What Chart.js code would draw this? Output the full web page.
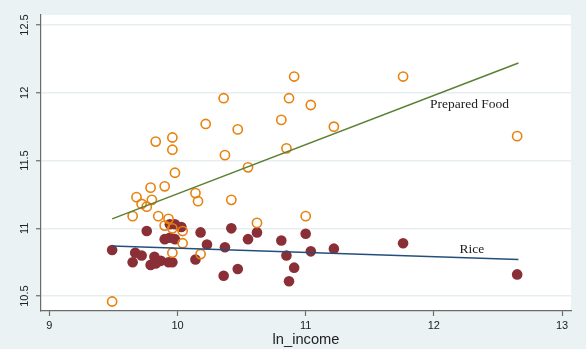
<!DOCTYPE html>
<html>
<head>
<meta charset="utf-8">
<script src="https://cdn.jsdelivr.net/npm/chart.js@4.4.1/dist/chart.umd.min.js"></script>
<style>
    html, body { margin: 0; padding: 0; background: #EAF2F3; }
    canvas { display: block; }
</style>
</head>
<body>
<canvas id="myChart" width="586" height="349"></canvas>
<script>
// data
const foodX = [9.49, 9.65, 9.68, 9.72, 9.76, 9.79, 9.80, 9.83, 9.85, 9.90, 9.90, 9.93, 9.96, 9.96, 9.96, 9.96, 9.98, 10.04, 10.04, 10.14, 10.16, 10.18, 10.22, 10.36, 10.37, 10.42, 10.47, 10.55, 10.62, 10.81, 10.85, 10.87, 10.91, 11.00, 11.04, 11.22, 11.76, 12.65]
const foodY = [10.46, 11.09, 11.23, 11.18, 11.16, 11.30, 11.21, 11.64, 11.09, 11.02, 11.31, 11.07, 11.00, 11.58, 11.67, 10.82, 11.41, 10.98, 10.89, 11.26, 11.20, 10.81, 11.77, 11.96, 11.54, 11.21, 11.73, 11.45, 11.04, 11.80, 11.59, 11.96, 12.12, 11.09, 11.91, 11.75, 12.12, 11.68]

const riceX = [9.49, 9.65, 9.67, 9.72, 9.76, 9.79, 9.82, 9.83, 9.87, 9.90, 9.93, 9.94, 9.94, 9.96, 9.98, 9.98, 10.03, 10.14, 10.18, 10.23, 10.36, 10.37, 10.42, 10.47, 10.55, 10.62, 10.81, 10.85, 10.87, 10.91, 11.00, 11.04, 11.22, 11.76, 12.65]
const riceY = [10.84, 10.75, 10.82, 10.80, 10.98, 10.73, 10.79, 10.74, 10.76, 10.92, 10.75, 10.93, 11.03, 10.75, 10.92, 11.03, 11.01, 10.77, 10.97, 10.88, 10.65, 10.86, 11.00, 10.70, 10.92, 10.97, 10.91, 10.80, 10.61, 10.71, 10.96, 10.83, 10.85, 10.89, 10.66]

// fitted lines (end points)
const fitX = [9.49, 12.66]
const foodFitY = [11.07, 12.22]
const riceFitY = [10.87, 10.77]

// tick labels
const xTicks = [9, 10, 11, 12, 13]
const yTicks = [10.5, 11, 11.5, 12, 12.5]

// text labels next to the lines
const labelNames = ['Prepared Food', 'Rice']
const labelX = [11.97, 12.20]
const labelY = [11.915, 10.845]

const xTitle = 'ln_income'

const toPoints = (xs, ys) => xs.map((x, i) => ({ x: x, y: ys[i] }))

const axisGray = '#6b6b6b'
const gridColor = '#E6EEF0'

// canvas + plot area background
const backgroundPlugin = {
    id: 'background',
    beforeDraw(chart) {
        const { ctx, chartArea } = chart
        ctx.save()
        ctx.fillStyle = '#EAF2F3'
        ctx.fillRect(0, 0, chart.width, chart.height)
        ctx.fillStyle = '#ffffff'
        ctx.fillRect(chartArea.left, chartArea.top, chartArea.right - chartArea.left, chartArea.bottom - chartArea.top)
        ctx.restore()
    }
}

// rotated y labels, x title and line labels
const textPlugin = {
    id: 'texts',
    afterDraw(chart) {
        const { ctx, scales, chartArea } = chart
        ctx.save()
        ctx.fillStyle = '#222'
        ctx.font = '11px "Liberation Sans", Arial, sans-serif'
        ctx.textAlign = 'center'
        ctx.textBaseline = 'middle'
        yTicks.forEach(v => {
            const py = scales.y.getPixelForValue(v)
            ctx.save()
            ctx.translate(25, py)
            ctx.rotate(-Math.PI / 2)
            ctx.fillText(String(v), 0, 0)
            ctx.restore()
        })

        ctx.font = '14.7px "Liberation Sans", Arial, sans-serif'
        ctx.fillText(xTitle, (chartArea.left + chartArea.right) / 2, 340)

        ctx.font = '13.5px "Liberation Serif", "Times New Roman", serif'
        ctx.textAlign = 'left'
        labelNames.forEach((name, i) => {
            ctx.fillText(name, scales.x.getPixelForValue(labelX[i]), scales.y.getPixelForValue(labelY[i]))
        })
        ctx.restore()
    }
}

const ctx = document.getElementById('myChart').getContext('2d')

const myChart = new Chart(ctx, {
    type: 'scatter',
    data: {
        datasets: [
            {
                type: 'line',
                data: toPoints(fitX, foodFitY),
                borderColor: '#5B7F33',
                borderWidth: 1.5,
                pointRadius: 0,
                order: 0
            },
            {
                type: 'line',
                data: toPoints(fitX, riceFitY),
                borderColor: '#23507B',
                borderWidth: 1.5,
                pointRadius: 0,
                order: 0
            },
            {
                data: toPoints(foodX, foodY),
                pointStyle: 'circle',
                pointRadius: 4.6,
                pointBorderWidth: 1.6,
                pointBorderColor: '#E8820E',
                pointBackgroundColor: 'rgba(0,0,0,0)',
                order: 1
            },
            {
                data: toPoints(riceX, riceY),
                pointRadius: 5.3,
                pointBorderWidth: 0,
                pointBackgroundColor: '#8B2F36',
                pointBorderColor: '#8B2F36',
                order: 2
            }
        ]
    },
    options: {
        responsive: false,
        animation: false,
        layout: { padding: { top: 15, right: 15, left: 0, bottom: 0 } },
        plugins: {
            legend: { display: false },
            tooltip: { enabled: false }
        },
        scales: {
            x: {
                type: 'linear',
                min: 8.935,
                max: 13.07,
                afterBuildTicks: scale => { scale.ticks = xTicks.map(v => ({ value: v })) },
                afterFit: scale => { scale.height = 38 },
                border: { display: true, color: axisGray, width: 1.2 },
                grid: { drawOnChartArea: false, drawTicks: true, tickLength: 5, tickColor: axisGray, tickWidth: 1.2 },
                ticks: {
                    color: '#222',
                    padding: 3,
                    font: { family: '"Liberation Sans", Arial, sans-serif', size: 11 },
                    maxRotation: 0
                }
            },
            y: {
                type: 'linear',
                min: 10.39,
                max: 12.574,
                afterBuildTicks: scale => { scale.ticks = yTicks.map(v => ({ value: v })) },
                afterFit: scale => { scale.width = 41 },
                border: { display: true, color: axisGray, width: 1.2 },
                grid: { color: gridColor, lineWidth: 1.5, drawTicks: true, tickLength: 5, tickColor: axisGray, tickWidth: 1.2 },
                ticks: { display: false }
            }
        }
    },
    plugins: [backgroundPlugin, textPlugin]
})
</script>
</body>
</html>
